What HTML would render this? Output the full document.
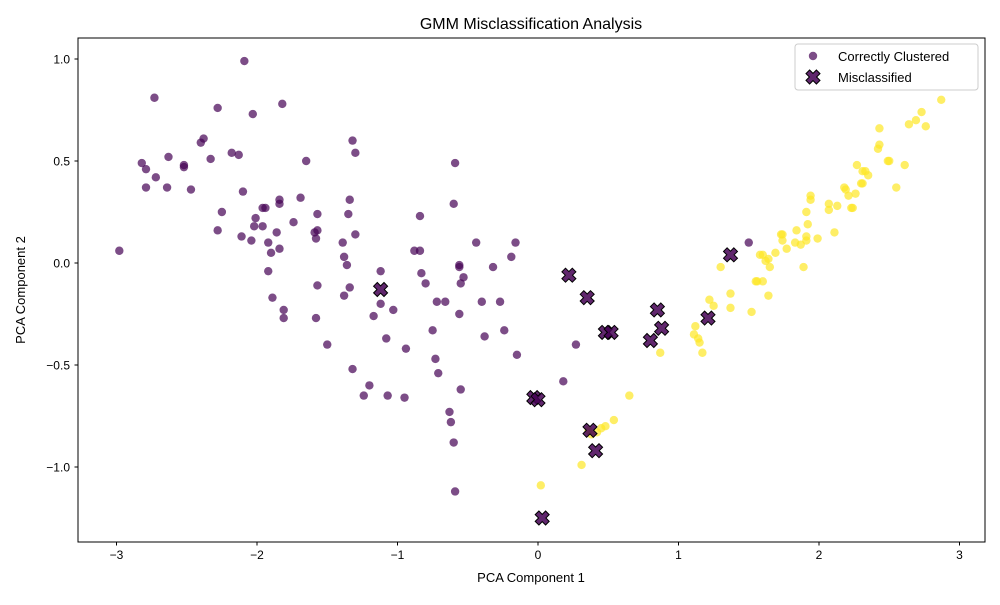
<!DOCTYPE html>
<html><head><meta charset="utf-8"><style>
body{margin:0;background:#fff;}
svg text{font-family:"Liberation Sans","DejaVu Sans",sans-serif;fill:#000;}
</style></head><body>
<svg id="chart" width="1000" height="600" xmlns="http://www.w3.org/2000/svg">
<rect width="1000" height="600" fill="#fff"/>
<text x="531" y="29" font-size="16" text-anchor="middle">GMM Misclassification Analysis</text>
<text x="531" y="582" font-size="13" text-anchor="middle">PCA Component 1</text>
<text x="25" y="290" font-size="13" text-anchor="middle" transform="rotate(-90 25 290)">PCA Component 2</text>
<g id="ticks"></g>
<g id="marks"></g>
<rect x="78" y="38" width="907" height="504" fill="none" stroke="#000" stroke-width="1"/>
<g>
<rect x="795" y="44" width="183" height="46" rx="3" fill="#fff" fill-opacity="0.8" stroke="#ccc"/>
<circle cx="813" cy="56" r="4.2" fill="#440154" fill-opacity="0.7"/>
<text x="838" y="61" font-size="13">Correctly Clustered</text>
<path id="legX" d="" fill="#440154" fill-opacity="0.85" stroke="#000" stroke-width="1"/>
<text x="838" y="82" font-size="13">Misclassified</text>
</g>
</svg>
<script>
const xTicks=[-3,-2,-1,0,1,2,3];
const yTicks=[-1.0,-0.5,0.0,0.5,1.0];
const purpleX=[-2.98,-2.73,-2.82,-2.79,-2.79,-2.72,-2.63,-2.64,-2.52,-2.52,-2.47,-2.38,-2.40,-2.33,-2.28,-2.09,-2.28,-2.25,-2.18,-2.13,-2.10,-2.11,-2.04,-2.03,-2.02,-2.01,-1.96,-1.96,-1.94,-1.92,-1.90,-1.92,-1.89,-1.86,-1.84,-1.84,-1.84,-1.82,-1.81,-1.81,-1.74,-1.69,-1.65,-1.57,-1.57,-1.58,-1.59,-1.57,-1.58,-1.50,-1.39,-1.38,-1.36,-1.38,-1.34,-1.35,-1.34,-1.32,-1.30,-1.30,-1.32,-1.20,-1.24,-1.17,-1.12,-1.12,-1.08,-1.07,-1.03,-0.94,-0.95,-0.88,-0.84,-0.84,-0.83,-0.80,-0.75,-0.72,-0.73,-0.71,-0.66,-0.63,-0.62,-0.60,-0.59,-0.59,-0.60,-0.56,-0.56,-0.56,-0.55,-0.53,-0.55,-0.44,-0.40,-0.38,-0.32,-0.27,-0.24,-0.19,-0.16,-0.15,0.18,0.27,1.50];
const purpleY=[0.06,0.81,0.49,0.46,0.37,0.42,0.52,0.37,0.48,0.47,0.36,0.61,0.59,0.51,0.76,0.99,0.16,0.25,0.54,0.53,0.35,0.13,0.11,0.73,0.18,0.22,0.18,0.27,0.27,0.10,0.05,-0.04,-0.17,0.15,0.07,0.31,0.29,0.78,-0.23,-0.27,0.20,0.32,0.50,0.24,0.16,0.12,0.15,-0.11,-0.27,-0.40,0.10,0.03,-0.01,-0.16,-0.12,0.24,0.31,0.60,0.54,0.14,-0.52,-0.60,-0.65,-0.26,-0.20,-0.04,-0.37,-0.65,-0.23,-0.42,-0.66,0.06,0.06,0.23,-0.05,-0.10,-0.33,-0.19,-0.47,-0.54,-0.19,-0.73,-0.78,-0.88,-1.12,0.49,0.29,-0.25,-0.02,-0.01,-0.10,-0.07,-0.62,0.10,-0.19,-0.36,-0.02,-0.19,-0.33,0.03,0.10,-0.45,-0.58,-0.40,0.10];
const yellowX=[0.02,0.31,0.36,0.38,0.42,0.45,0.48,0.54,0.65,0.87,1.11,1.12,1.14,1.15,1.17,1.22,1.25,1.30,1.37,1.37,1.52,1.55,1.60,1.60,1.62,1.64,1.65,1.64,1.69,1.73,1.74,1.77,1.74,1.83,1.84,1.89,1.87,1.91,1.91,1.92,1.91,1.94,1.94,1.99,2.11,2.07,2.07,2.13,2.18,2.19,2.21,2.23,2.24,2.26,2.27,2.30,2.31,2.33,2.35,2.31,2.42,2.43,2.43,2.49,2.50,2.55,2.61,2.64,2.69,2.73,2.76,2.87,1.58,1.56];
const yellowY=[-1.09,-0.99,-0.82,-0.84,-0.83,-0.81,-0.80,-0.77,-0.65,-0.44,-0.35,-0.31,-0.37,-0.39,-0.44,-0.18,-0.21,-0.02,-0.15,-0.22,-0.24,-0.09,0.04,-0.09,0.01,0.02,-0.02,-0.16,0.05,0.14,0.14,0.07,0.11,0.10,0.16,-0.02,0.09,0.11,0.13,0.19,0.25,0.33,0.31,0.12,0.15,0.29,0.26,0.28,0.37,0.36,0.33,0.27,0.27,0.34,0.48,0.39,0.45,0.45,0.43,0.39,0.56,0.58,0.66,0.50,0.50,0.37,0.48,0.68,0.70,0.74,0.67,0.80,0.04,-0.09];
const misX=[-1.12,0.22,0.35,0.48,0.52,0.80,0.85,0.88,1.21,1.37,-0.03,0.00,0.37,0.41,0.03];
const misY=[-0.13,-0.06,-0.17,-0.34,-0.34,-0.38,-0.23,-0.32,-0.27,0.04,-0.66,-0.67,-0.82,-0.92,-1.25];

const NS='http://www.w3.org/2000/svg';
const sx=v=>538+v*140.5;
const sy=v=>263-v*204;
const ticks=document.getElementById('ticks');
const marks=document.getElementById('marks');
function mk(tag,attrs,parent){const e=document.createElementNS(NS,tag);for(const k in attrs)e.setAttribute(k,attrs[k]);parent.appendChild(e);return e;}
xTicks.forEach(t=>{
  const l=mk('line',{x1:sx(t),x2:sx(t),y1:542,y2:545.5,stroke:'#000'},ticks);
  
  
  const tx=mk('text',{x:sx(t),y:559,'font-size':12,'text-anchor':'middle'},ticks);
  tx.textContent=(t<0?'\u2212'+Math.abs(t):String(t));
  
  
});
yTicks.forEach(t=>{
  const l=mk('line',{x1:74.5,x2:78,y1:sy(t),y2:sy(t),stroke:'#000'},ticks);
  
  
  const tx=mk('text',{x:70,y:sy(t)+4.5,'font-size':12,'text-anchor':'end'},ticks);
  tx.textContent=(t<0?'\u2212'+Math.abs(t).toFixed(1):t.toFixed(1));
  
  
});
purpleX.forEach((v,i)=>{
  const c=mk('circle',{cx:sx(v),cy:sy(purpleY[i]),r:4.2,fill:'#440154','fill-opacity':0.7},marks);
  
  
});
yellowX.forEach((v,i)=>{
  const c=mk('circle',{cx:sx(v),cy:sy(yellowY[i]),r:4.2,fill:'#fde725','fill-opacity':0.7},marks);
  
  
});
function xPath(cx,cy,s){
  const a=s*0.5,b=s*0.26;
  const p=[[-a,-a+b],[-a+b,-a],[0,-b],[a-b,-a],[a,-a+b],[b,0],[a,a-b],[a-b,a],[0,b],[-a+b,a],[-a,a-b],[-b,0]];
  return 'M'+p.map(q=>(cx+q[0]).toFixed(1)+','+(cy+q[1]).toFixed(1)).join('L')+'Z';
}
misX.forEach((v,i)=>{
  const p=mk('path',{d:xPath(sx(v),sy(misY[i]),14),fill:'#440154','fill-opacity':0.85,stroke:'#000','stroke-width':1},marks);
  
  
});
document.getElementById('legX').setAttribute('d',xPath(813,77,14));
</script>
</body></html>
